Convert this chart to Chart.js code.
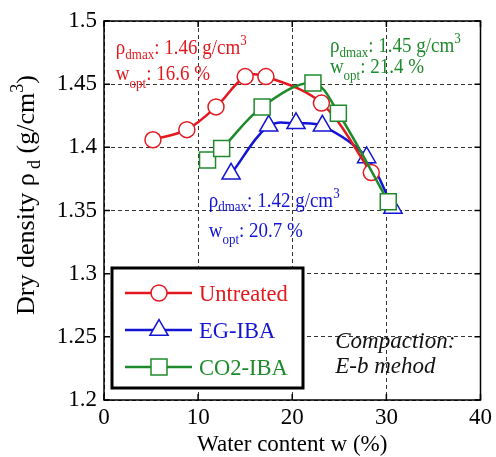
<!DOCTYPE html>
<html>
<head>
<meta charset="utf-8">
<script src="https://cdn.jsdelivr.net/npm/chart.js@4.4.0/dist/chart.umd.min.js"></script>
<style>
  html, body { margin: 0; padding: 0; background: #fff; }
</style>
</head>
<body>
<canvas id="compactionChart" width="496" height="457"></canvas>
<script>
// --- 1. DATA ---
const untreatedW   = [5.2, 8.8, 11.9, 15.0, 17.2, 23.1, 28.4];
const untreatedRho = [1.406, 1.414, 1.432, 1.456, 1.456, 1.435, 1.380];
const egW          = [13.5, 17.5, 20.4, 23.2, 27.9, 30.7];
const egRho        = [1.379, 1.417, 1.419, 1.417, 1.392, 1.352];
const co2W         = [11.0, 12.5, 16.8, 22.2, 24.9, 30.2];
const co2Rho       = [1.390, 1.399, 1.432, 1.451, 1.427, 1.357];
const xTicks = [0, 10, 20, 30, 40];
const yTicks = [1.2, 1.25, 1.3, 1.35, 1.4, 1.45, 1.5];

const RED = '#e3191f';
const BLUE = '#1414d4';
const GREEN = '#1f8a2c';
const FONT = '"Liberation Serif", "Times New Roman", serif';

// text notes, anchored in data units (left edge, baseline)
const notes = [
    { x: 1.26, y: 1.4739, color: RED, parts: [['ρ'], ['dmax', 'sub', 4], [': 1.46 g/cm'], ['3', 'sup', 8]] },
    { x: 1.26, y: 1.4533, color: RED, parts: [['w'], ['opt', 'sub', 7], [': 16.6 %']] },
    { x: 24.0, y: 1.4755, color: GREEN, parts: [['ρ'], ['dmax', 'sub', 4], [': 1.45 g/cm'], ['3', 'sup', 8]] },
    { x: 24.0, y: 1.4589, color: GREEN, parts: [['w'], ['opt', 'sub', 6], [': 21.4 %']] },
    { x: 11.13, y: 1.3529, color: BLUE, parts: [['ρ'], ['dmax', 'sub', 4], [': 1.42 g/cm'], ['3', 'sup', 8]] },
    { x: 11.13, y: 1.3291, color: BLUE, parts: [['w'], ['opt', 'sub', 6], [': 20.7 %']] },
    { x: 24.57, y: 1.2413, color: '#111', italic: true, size: 23, stretch: 1, parts: [['Compaction:']] },
    { x: 24.57, y: 1.2215, color: '#111', italic: true, size: 23, stretch: 1, parts: [['E-b mehod']] }
];

const series = [
    { label: 'Untreated', w: untreatedW, rho: untreatedRho, color: RED, style: 'circle', radius: 8, order: 1 },
    { label: 'EG-IBA', w: egW, rho: egRho, color: BLUE, style: 'triangle', radius: 10.5, order: 2 },
    { label: 'CO2-IBA', w: co2W, rho: co2Rho, color: GREEN, style: 'rect', radius: 11.3, order: 0 }
];

// --- 2. HELPERS ---
function partFont(kind, size, italic) {
    const sz = kind ? Math.round(size * 0.68) : size;
    return (italic ? 'italic ' : '') + sz + 'px ' + FONT;
}

function drawRich(ctx, x, y, parts, size, italic) {
    let cx = x;
    parts.forEach(p => {
        const [txt, kind, off] = p;
        ctx.font = partFont(kind, size, italic);
        let dy = 0;
        if (kind === 'sub') dy = off;
        if (kind === 'sup') dy = -off;
        ctx.fillText(txt, cx, y + dy);
        cx += ctx.measureText(txt).width;
    });
    return cx - x;
}

function richWidth(ctx, parts, size) {
    let w = 0;
    parts.forEach(p => {
        ctx.font = partFont(p[1], size, false);
        w += ctx.measureText(p[0]).width;
    });
    return w;
}

function drawMarker(ctx, style, x, y, color) {
    ctx.save();
    ctx.fillStyle = '#fff';
    ctx.strokeStyle = color;
    ctx.lineWidth = 1.5;
    ctx.beginPath();
    if (style === 'circle') {
        ctx.arc(x, y, 8, 0, Math.PI * 2);
    } else if (style === 'triangle') {
        const r = 10.5;
        ctx.moveTo(x, y - r);
        ctx.lineTo(x + r * 0.866, y + r / 2);
        ctx.lineTo(x - r * 0.866, y + r / 2);
        ctx.closePath();
    } else {
        ctx.rect(x - 8, y - 8, 16, 16);
    }
    ctx.fill();
    ctx.stroke();
    ctx.restore();
}

// frame, inward ticks, notes, legend and y title
const decorPlugin = {
    id: 'decor',
    beforeDatasetsDraw(chart) {
        const { ctx, chartArea: a, scales } = chart;
        ctx.save();
        ctx.strokeStyle = '#000';
        ctx.lineWidth = 1.5;
        ctx.strokeRect(a.left, a.top, a.right - a.left, a.bottom - a.top);
        ctx.beginPath();
        xTicks.forEach(v => {
            const px = scales.x.getPixelForValue(v);
            ctx.moveTo(px, a.bottom); ctx.lineTo(px, a.bottom - 6);
            ctx.moveTo(px, a.top); ctx.lineTo(px, a.top + 6);
        });
        yTicks.forEach(v => {
            const py = scales.y.getPixelForValue(v);
            ctx.moveTo(a.left, py); ctx.lineTo(a.left + 6, py);
            ctx.moveTo(a.right, py); ctx.lineTo(a.right - 6, py);
        });
        ctx.stroke();
        ctx.restore();
    },
    afterDraw(chart) {
        const { ctx, chartArea: a, scales } = chart;
        ctx.save();
        ctx.textBaseline = 'alphabetic';
        ctx.textAlign = 'left';
        notes.forEach(n => {
            ctx.save();
            ctx.fillStyle = n.color;
            ctx.translate(scales.x.getPixelForValue(n.x), scales.y.getPixelForValue(n.y));
            ctx.scale(1, n.stretch || 1.15);
            drawRich(ctx, 0, 0, n.parts, n.size || 19, n.italic);
            ctx.restore();
        });

        // legend box
        const bx = a.left + 8, by = 268, bw = 191, bh = 120;
        ctx.fillStyle = '#fff';
        ctx.fillRect(bx, by, bw, bh);
        ctx.strokeStyle = '#000';
        ctx.lineWidth = 3;
        ctx.strokeRect(bx, by, bw, bh);
        const rows = [293, 330, 367];
        series.forEach((s, i) => {
            const ry = rows[i];
            ctx.strokeStyle = s.color;
            ctx.lineWidth = 2.5;
            ctx.beginPath();
            ctx.moveTo(bx + 13, ry);
            ctx.lineTo(bx + 80, ry);
            ctx.stroke();
            drawMarker(ctx, s.style, bx + 47, ry, s.color);
            ctx.fillStyle = s.color;
            ctx.font = '22.5px ' + FONT;
            ctx.fillText(s.label, bx + 87, ry + 7.5);
        });

        // y axis title with sub/superscript
        const yParts = [['Dry density ρ'], [' d', 'sub', 6], [' (g/cm'], ['3', 'sup', 11], [')']];
        const w = richWidth(ctx, yParts, 26);
        ctx.translate(34, 195);
        ctx.rotate(-Math.PI / 2);
        ctx.fillStyle = '#000';
        drawRich(ctx, -w / 2, 0, yParts, 26, false);
        ctx.restore();
    }
};

// --- 3. CHART ---
const ctx = document.getElementById('compactionChart').getContext('2d');
new Chart(ctx, {
    type: 'line',
    data: {
        datasets: series.map(s => ({
            label: s.label,
            data: s.w.map((w, i) => ({ x: w, y: s.rho[i] })),
            borderColor: s.color,
            backgroundColor: '#fff',
            borderWidth: 2.5,
            pointStyle: s.style,
            pointRadius: s.radius,
            pointBorderWidth: 1.5,
            pointBackgroundColor: '#fff',
            pointBorderColor: s.color,
            tension: 0.35,
            order: s.order
        }))
    },
    options: {
        responsive: false,
        animation: false,
        layout: { padding: { top: 21, right: 11, bottom: 0, left: 0 } },
        plugins: { legend: { display: false }, tooltip: { enabled: false } },
        scales: {
            x: {
                type: 'linear',
                min: 0,
                max: 40,
                afterBuildTicks: s => { s.ticks = xTicks.map(v => ({ value: v })); },
                afterFit: s => { s.height = 57; },
                ticks: { font: { family: FONT, size: 23 }, color: '#000', padding: 4, maxRotation: 0, autoSkip: false },
                grid: { color: '#333', lineWidth: 1, drawTicks: false },
                border: { display: false, dash: [4, 3] },
                title: {
                    display: true,
                    text: 'Water content w (%)',
                    font: { family: FONT, size: 23 },
                    color: '#000',
                    padding: { top: 0, bottom: -2 }
                }
            },
            y: {
                min: 1.2,
                max: 1.5,
                afterBuildTicks: s => { s.ticks = yTicks.map(v => ({ value: v })); },
                afterFit: s => { s.width = 104; },
                ticks: {
                    font: { family: FONT, size: 23 },
                    color: '#000',
                    padding: 7,
                    callback: v => String(+v.toFixed(2))
                },
                grid: { color: '#333', lineWidth: 1, drawTicks: false },
                border: { display: false, dash: [4, 3] }
            }
        }
    },
    plugins: [decorPlugin]
});
</script>
</body>
</html>
